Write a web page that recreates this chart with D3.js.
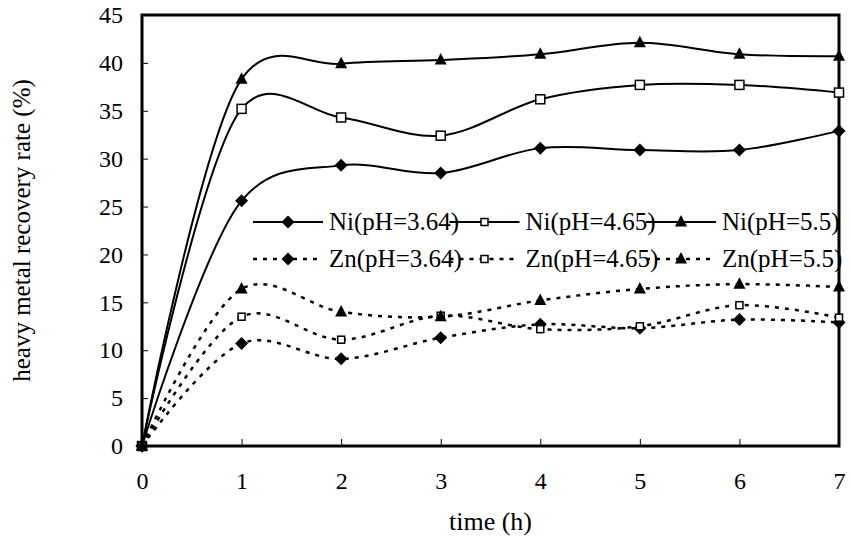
<!DOCTYPE html>
<meta charset="utf-8">
<script src="https://d3js.org/d3.v7.min.js"></script>
<style>
  body { margin: 0; background: #fff; }
  svg, svg text { font-family: "Liberation Serif", "Tinos", "Times New Roman", serif !important; fill: #000; }
</style>
<div id="chart"></div>
<script>
// time axis (h)
var hours = [0, 1, 2, 3, 4, 5, 6, 7];
var yTicks = [0, 5, 10, 15, 20, 25, 30, 35, 40, 45];

// recovery rates (%)
var niPh364 = [0, 25.6, 29.3, 28.5, 31.1, 30.9, 30.9, 32.9];
var niPh465 = [0, 35.2, 34.3, 32.4, 36.2, 37.7, 37.7, 36.9];
var niPh55  = [0, 38.3, 39.9, 40.3, 40.9, 42.1, 40.9, 40.7];
var znPh364 = [0, 10.7, 9.1, 11.3, 12.7, 12.3, 13.2, 12.9];
var znPh465 = [0, 13.5, 11.1, 13.6, 12.2, 12.5, 14.7, 13.4];
var znPh55  = [0, 16.4, 14.0, 13.5, 15.2, 16.4, 16.9, 16.6];

var seriesNames = ["Ni(pH=3.64)", "Ni(pH=4.65)", "Ni(pH=5.5)",
                   "Zn(pH=3.64)", "Zn(pH=4.65)", "Zn(pH=5.5)"];
var seriesValues = [niPh364, niPh465, niPh55, znPh364, znPh465, znPh55];
var seriesMarks = ["diamond", "square", "triangle", "diamond", "square", "triangle"];

var W = 851, H = 539;
var margin = {top: 15, right: 12, bottom: 93, left: 142};
var width = W - margin.left - margin.right,
    height = H - margin.top - margin.bottom;

var svg = d3.select("#chart").append("svg")
    .attr("width", W)
    .attr("height", H);

var g = svg.append("g")
    .attr("transform", "translate(" + margin.left + "," + margin.top + ")");

var x = d3.scaleLinear().domain([0, 7]).range([0, width]);
var y = d3.scaleLinear().domain([0, 45]).range([height, 0]);

// ticks point inward
var xAxis = g.append("g")
    .attr("transform", "translate(0," + height + ")")
    .call(d3.axisBottom(x).tickValues(hours).tickSize(-7).tickPadding(26).tickFormat(d3.format("d")));
var yAxis = g.append("g")
    .call(d3.axisLeft(y).tickValues(yTicks).tickSize(-6).tickPadding(19).tickFormat(d3.format("d")));

[xAxis, yAxis].forEach(function(a) {
  a.attr("font-family", null).attr("font-size", null);
  a.select(".domain").remove();
  a.selectAll(".tick line").attr("stroke", "#000").attr("stroke-width", 1);
  a.selectAll(".tick text").style("font-size", "24px");
});

// frame
g.append("rect")
    .attr("width", width)
    .attr("height", height)
    .attr("fill", "none")
    .attr("stroke", "#000")
    .attr("stroke-width", 3);

// axis titles
g.append("text")
    .attr("x", width / 2)
    .attr("y", height + 84)
    .attr("text-anchor", "middle")
    .style("font-size", "26px")
    .text("time (h)");

svg.append("text")
    .attr("transform", "translate(30," + (margin.top + height / 2) + ") rotate(-90)")
    .attr("text-anchor", "middle")
    .style("font-size", "25px")
    .text("heavy metal recovery rate (%)");

var line = d3.line()
    .x(function(d, i) { return x(hours[i]); })
    .y(function(d) { return y(d); })
    .curve(d3.curveCatmullRom.alpha(0.2));

function drawMark(sel, kind, small) {
  if (kind === "diamond") {
    sel.append("path").attr("d", "M0,-6.5L6.5,0L0,6.5L-6.5,0Z").attr("fill", "#000");
  } else if (kind === "triangle") {
    sel.append("path").attr("d", "M0,-7L6,4.5L-6,4.5Z").attr("fill", "#000");
  } else {
    var s = small ? 7 : 9;
    sel.append("rect").attr("x", -s / 2).attr("y", -s / 2).attr("width", s).attr("height", s)
      .attr("fill", "#fff").attr("stroke", "#000").attr("stroke-width", 1.5);
  }
}

seriesValues.forEach(function(vals, k) {
  var dashed = k >= 3;
  g.append("path")
      .datum(vals)
      .attr("fill", "none")
      .attr("stroke", "#000")
      .attr("stroke-width", dashed ? 2.5 : 2)
      .attr("stroke-dasharray", dashed ? "4,6" : null)
      .attr("d", line);
  g.selectAll(".m" + k)
      .data(vals)
      .enter().append("g")
      .attr("transform", function(d, i) { return "translate(" + x(hours[i]) + "," + y(d) + ")"; })
      .each(function() { drawMark(d3.select(this), seriesMarks[k], dashed); });
});

// legend, two rows of three
var legend = svg.append("g");
seriesNames.forEach(function(name, k) {
  var col = k % 3, row = Math.floor(k / 3);
  var cx = 288 + col * 196.5, cy = 222 + row * 37;
  var item = legend.append("g").attr("transform", "translate(" + cx + "," + cy + ")");
  item.append("line")
      .attr("x1", -35).attr("x2", 35)
      .attr("stroke", "#000")
      .attr("stroke-width", row ? 2.5 : 2)
      .attr("stroke-dasharray", row ? "4,6" : null);
  drawMark(item, seriesMarks[k], true);
  item.append("text")
      .attr("x", 41)
      .attr("y", 8)
      .style("font-size", "25px")
      .text(name);
});
</script>
